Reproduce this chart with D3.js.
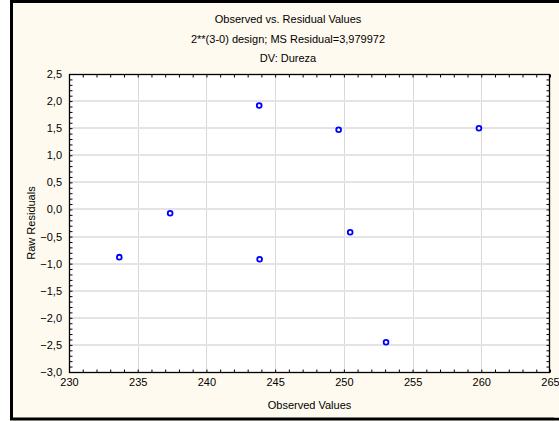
<!DOCTYPE html>
<html><head><meta charset="utf-8">
<script src="https://cdn.jsdelivr.net/npm/d3@7"></script>
<style>
html,body{margin:0;padding:0;background:#fffaef;overflow:hidden;}
svg{display:block;overflow:hidden;font-family:"Liberation Sans",Arial,sans-serif;}
</style></head>
<body>
<svg id="c" width="559" height="421"></svg>
<script>
const titleLines = ["Observed vs. Residual Values", "2**(3-0) design; MS Residual=3,979972", "DV: Dureza"];
const xLabel = "Observed Values";
const yLabel = "Raw Residuals";
const observed = [233.66, 237.36, 243.84, 243.87, 249.62, 250.46, 253.07, 259.83];
const residuals = [-0.88, -0.07, 1.92, -0.92, 1.47, -0.42, -2.45, 1.50];
const xTicks = [230, 235, 240, 245, 250, 255, 260, 265];
const yTicks = [2.5, 2.0, 1.5, 1.0, 0.5, 0.0, -0.5, -1.0, -1.5, -2.0, -2.5, -3.0];

const svg = d3.select("#c");
const L = 69, R = 550, T = 74, B = 372;
const fmtComma = d => d3.format(".1f")(d).replace(".", ",").replace("-0,0","0,0");

// white margin at the left, cream panel, frame on left/top/bottom
svg.append("rect").attr("x", 0).attr("y", 0).attr("width", 11).attr("height", 421).attr("fill", "#fff");
svg.append("rect").attr("x", 11).attr("y", 0).attr("width", 548).attr("height", 421)
  .attr("fill", "#fffaef");
svg.append("path").attr("d", "M565,1.5H11.5V419H565")
  .attr("fill", "none").attr("stroke", "#000").attr("stroke-width", 3);

const x = d3.scaleLinear().domain([230, 265]).range([L, R]);
const y = d3.scaleLinear().domain([-3, 2.5]).range([B, T]);

svg.append("rect").attr("x", L).attr("y", T).attr("width", R - L).attr("height", B - T).attr("fill", "#fff");

const g = svg.append("g");
g.selectAll("line.gx").data(xTicks.slice(1, -1)).join("line")
  .attr("x1", d => Math.round(x(d)) + 0.5).attr("x2", d => Math.round(x(d)) + 0.5)
  .attr("y1", T).attr("y2", B).attr("stroke", "#d9d9d9").attr("stroke-width", 1);
g.selectAll("line.gy").data(yTicks.slice(1, -1)).join("line")
  .attr("y1", d => Math.round(y(d))).attr("y2", d => Math.round(y(d)))
  .attr("x1", L).attr("x2", R).attr("stroke", "#e4e4e4").attr("stroke-width", 2);

const xMinor = d3.range(230, 266, 1);
const yMinor = d3.range(-30, 26, 1).map(v => v / 10);
function addAxis(axis, tr, ticks, len) {
  const a = svg.append("g").attr("transform", tr)
    .call(axis.tickValues(ticks).tickSize(len).tickFormat(""));
  a.select(".domain").remove();
  a.selectAll("line").attr("stroke", "#000");
  return a;
}
addAxis(d3.axisTop(x), `translate(0,${B + 0.5})`, xMinor, 3);
addAxis(d3.axisBottom(x), `translate(0,${T + 0.5})`, xMinor, 3);
addAxis(d3.axisRight(y), `translate(${L + 0.5},0)`, yMinor, 3);
addAxis(d3.axisLeft(y), `translate(${R - 0.5},0)`, yMinor, 3);

svg.append("rect").attr("x", L + 0.5).attr("y", T + 0.5).attr("width", R - L - 1).attr("height", B - T)
  .attr("fill", "none").attr("stroke", "#000").attr("stroke-width", 1.3);

// cover strip along the right edge (the panel continues past the window)
svg.append("rect").attr("x", 554).attr("y", 3).attr("width", 10).attr("height", 414.5).attr("fill", "#fffaef");

const xa = svg.append("g").attr("transform", `translate(0,${B})`)
  .call(d3.axisBottom(x).tickValues(xTicks).tickSize(0).tickPadding(6).tickFormat(d3.format("d")));
xa.select(".domain").remove();
xa.selectAll("text").attr("font-size", 11).attr("fill", "#000").attr("font-family", "Liberation Sans, Arial, sans-serif");

const ya = svg.append("g").attr("transform", `translate(${L},0)`)
  .call(d3.axisLeft(y).tickValues(yTicks).tickSize(0).tickPadding(7).tickFormat(fmtComma));
ya.select(".domain").remove();
ya.selectAll("text").attr("font-size", 11).attr("fill", "#000").attr("font-family", "Liberation Sans, Arial, sans-serif");

svg.selectAll("text.title").data(titleLines).join("text")
  .attr("x", 288).attr("y", (d, i) => 23 + i * 19.5)
  .attr("text-anchor", "middle").attr("font-size", 11).text(d => d);

svg.append("text").attr("x", (L + R) / 2).attr("y", 409).attr("text-anchor", "middle")
  .attr("font-size", 11).text(xLabel);
svg.append("text").attr("transform", `translate(35,${(T + B) / 2}) rotate(-90)`)
  .attr("text-anchor", "middle").attr("font-size", 11).text(yLabel);

svg.append("g").selectAll("circle").data(observed).join("circle")
  .attr("cx", d => x(d)).attr("cy", (d, i) => y(residuals[i])).attr("r", 2.4)
  .attr("fill", "#fff").attr("stroke", "#0000ff").attr("stroke-width", 1.8);
</script>
</body></html>
